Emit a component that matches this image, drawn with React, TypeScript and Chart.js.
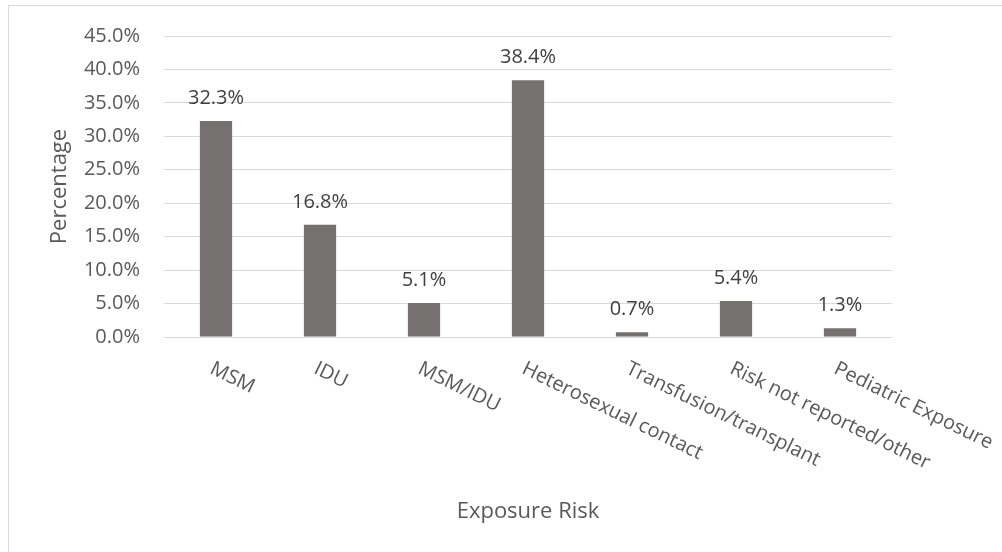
import React, { useEffect, useRef } from "react";
import { Chart, registerables } from "chart.js";

Chart.register(...registerables);

const categories = [
  "MSM",
  "IDU",
  "MSM/IDU",
  "Heterosexual contact",
  "Transfusion/transplant",
  "Risk not reported/other",
  "Pediatric Exposure",
];
const percentages = [32.3, 16.8, 5.1, 38.4, 0.7, 5.4, 1.3];
const yAxisTitle = "Percentage";
const xAxisTitle = "Exposure Risk";

const FONT = "'Open Sans', 'Noto Sans', sans-serif";
const TICK_COLOR = "#595959";
const LABEL_COLOR = "#404040";

const customText = {
  id: "customText",
  afterDatasetsDraw(chart: any) {
    const ctx = chart.ctx;
    const meta = chart.getDatasetMeta(0);
    const xScale = chart.scales.x;
    const area = chart.chartArea;
    ctx.save();
    // data labels
    ctx.font = `20px ${FONT}`;
    ctx.fillStyle = LABEL_COLOR;
    ctx.textAlign = "center";
    ctx.textBaseline = "alphabetic";
    meta.data.forEach((bar: any, i: number) => {
      const v = chart.data.datasets[0].data[i];
      ctx.fillText(v.toFixed(1) + "%", bar.x, bar.y - 17);
    });
    // rotated category labels
    ctx.fillStyle = TICK_COLOR;
    ctx.textAlign = "left";
    const angle = (26 * Math.PI) / 180;
    categories.forEach((label, i) => {
      const x = xScale.getPixelForTick(i);
      ctx.save();
      ctx.translate(x - 1, area.bottom + 23);
      ctx.rotate(angle);
      ctx.fillText(label, 0, 14.3);
      ctx.restore();
    });
    // x axis title
    ctx.font = `22px ${FONT}`;
    ctx.textAlign = "center";
    ctx.fillText(xAxisTitle, (area.left + area.right) / 2, 518);
    ctx.restore();
  },
};

export default function App() {
  const canvasRef = useRef<HTMLCanvasElement | null>(null);

  useEffect(() => {
    if (!canvasRef.current) return;
    const chart = new Chart(canvasRef.current, {
      type: "bar",
      data: {
        labels: categories,
        datasets: [
          {
            data: percentages,
            backgroundColor: "#767171",
            borderWidth: 0,
            categoryPercentage: 1,
            barPercentage: 0.31,
          },
        ],
      },
      options: {
        animation: false,
        responsive: false,
        maintainAspectRatio: false,
        layout: { padding: { top: 34, right: 110, bottom: 215, left: 0 } },
        plugins: {
          legend: { display: false },
          tooltip: { enabled: false },
          title: { display: false },
        },
        scales: {
          x: {
            ticks: { display: false },
            grid: { display: false, drawTicks: false },
            border: { display: false },
          },
          y: {
            min: 0,
            max: 45,
            ticks: {
              stepSize: 5,
              padding: 24,
              color: TICK_COLOR,
              font: { family: FONT, size: 20 },
              callback: (v: any) => Number(v).toFixed(1) + "%",
            },
            grid: { color: "#d9d9d9", lineWidth: 1, drawTicks: false },
            border: { display: false },
            title: {
              display: true,
              text: yAxisTitle,
              color: TICK_COLOR,
              font: { family: FONT, size: 22 },
              padding: { top: 47, bottom: 0 },
            },
            afterFit: (scale: any) => {
              scale.width = 164;
            },
          },
        },
      },
      plugins: [customText],
    });
    (document as any).fonts?.load?.(`20px 'Open Sans'`).then(() => chart.update()).catch(() => {});
    return () => chart.destroy();
  }, []);

  return (
    <div style={{ position: "absolute", left: 0, top: 0, width: 1002, height: 552, overflow: "hidden", background: "#fff" }}>
      <div
        style={{
          position: "absolute",
          left: 8,
          top: 5,
          width: 1100,
          height: 600,
          borderLeft: "1.5px solid #d9d9d9",
          borderTop: "1.5px solid #d9d9d9",
        }}
      />
      <canvas ref={canvasRef} width={1002} height={552} style={{ position: "absolute", left: 0, top: 0 }} />
    </div>
  );
}
